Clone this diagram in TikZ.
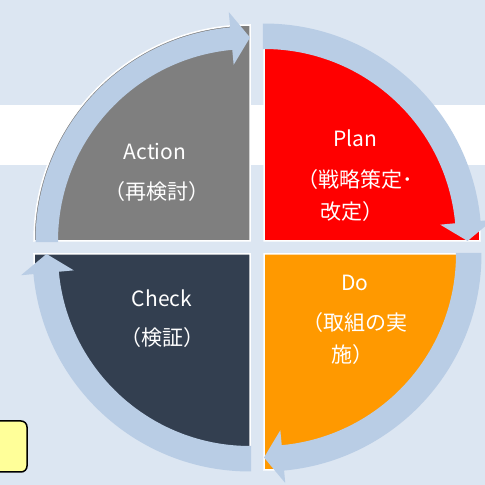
\documentclass[tikz,border=0pt]{standalone}
\usepackage{fontspec}
\setmainfont{Noto Sans CJK JP}
\usetikzlibrary{calc}
\definecolor{bg}{HTML}{DCE6F2}
\definecolor{ringc}{HTML}{B9CDE5}
\definecolor{actc}{HTML}{7F7F7F}
\definecolor{planc}{HTML}{FF0000}
\definecolor{doc}{HTML}{FF9900}
\definecolor{chkc}{HTML}{333F50}
\definecolor{notec}{HTML}{FFFF99}
\newcommand\ringarrow[4]{%
  \fill[ringc, shift={(#1)}] (#2+0.3:#3) arc[start angle=#2+0.3, end angle=#2-84.7, radius=#3]
    -- (#2-84.7:177) -- (#2-90:203.5) -- (#2-84.7:230) -- (#2-84.7:#4)
    arc[start angle=#2-84.7, end angle=#2+0.3, radius=#4] -- cycle;}
\begin{document}
\begin{tikzpicture}[x=1pt,y=1pt,
  lbl/.style={text=white, font=\fontsize{21}{25}\selectfont, inner sep=0pt, anchor=center},
  sector/.style={draw=white, line width=1.5pt},
  notebox/.style={draw=black, line width=1.5pt, fill=notec, rounded corners=6pt,
    minimum width=44pt, minimum height=51pt, inner sep=0pt}]
\fill[bg] (0,0) rectangle (485,485);
\fill[white] (0,320) rectangle (485,380);
\useasboundingbox (0,0) rectangle (485,485);

\coordinate (G) at (250,244);
\coordinate (R) at (264,244);
\coordinate (O) at (264,231);
\coordinate (D) at (250,231);

\filldraw[sector, fill=actc] (G) -- ++(180:216) arc[start angle=180, end angle=90, radius=216] -- cycle;
\filldraw[sector, fill=planc] (R) -- ++(90:216) arc[start angle=90, end angle=0, radius=216] -- cycle;
\filldraw[sector, fill=doc] (O) -- ++(0:216) arc[start angle=0, end angle=-90, radius=216] -- cycle;
\filldraw[sector, fill=chkc] (D) -- ++(-90:216) arc[start angle=270, end angle=180, radius=216] -- cycle;

\ringarrow{G}{180}{192}{214.5}
\ringarrow{R}{90}{192}{217.5}
\ringarrow{O}{0}{192}{217.5}
\ringarrow{D}{270}{192}{217.5}

\node[notebox] (note) at (5,38.5) {};

\node[lbl] (a1) at (155,333) {Action};
\node[lbl] (a2) at (157,293) {（再検討）};
\node[lbl] (p1) at (355,347) {Plan};
\node[lbl] (p2) at (355,305) {（戦略策定･};
\node[lbl] (p3) at (352,273) {改定）};
\node[lbl] (d1) at (355,202) {Do};
\node[lbl] (d2) at (355,162) {（取組の実};
\node[lbl] (d3) at (352,130) {施）};
\node[lbl] (c1) at (162,187) {Check};
\node[lbl] (c2) at (162,147) {（検証）};
\end{tikzpicture}
\end{document}
